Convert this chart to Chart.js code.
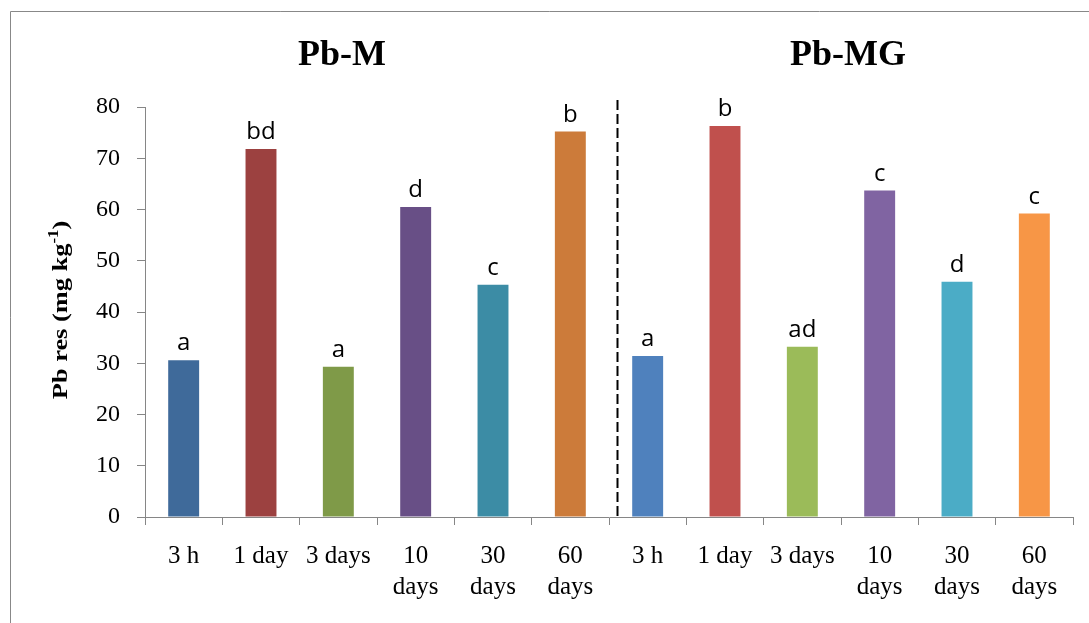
<!DOCTYPE html>
<html lang="en">
<head>
    <meta charset="UTF-8">
    <title>Pb res</title>
    <script src="https://cdn.jsdelivr.net/npm/chart.js@4/dist/chart.umd.min.js"></script>
    <style>
        body {
            margin: 0;
            background: #fff;
        }
        canvas {
            display: block;
        }
    </style>
</head>
<body>
<canvas id="pbChart" width="1089" height="623"></canvas>

<script>
    // sampling times, Pb-M then Pb-MG
    const timeLabels = [
        '3 h', '1 day', '3 days', ['10', 'days'], ['30', 'days'], ['60', 'days'],
        '3 h', '1 day', '3 days', ['10', 'days'], ['30', 'days'], ['60', 'days']
    ];
    const pbRes = [30.6, 71.8, 29.3, 60.5, 45.3, 75.2, 31.4, 76.3, 33.2, 63.7, 45.9, 59.2];
    const groupLetters = ['a', 'bd', 'a', 'd', 'c', 'b', 'a', 'b', 'ad', 'c', 'd', 'c'];
    const barColors = [
        '#3F6A9A', '#9C4140', '#7F9A48', '#684F86', '#3C8CA5', '#CC7B3A',
        '#4F81BD', '#C0504D', '#9BBB59', '#8064A2', '#4BACC6', '#F79646'
    ];
    const panelTitles = ['Pb-M', 'Pb-MG'];
    const yTicks = [0, 10, 20, 30, 40, 50, 60, 70, 80];

    const axisGray = '#868686';
    const serif = '"Liberation Serif", "Times New Roman", serif';

    // frame, panel titles, axis title, divider and significance letters
    const decorations = {
        id: 'decorations',
        beforeDraw(chart) {
            const ctx = chart.ctx;
            ctx.save();
            ctx.strokeStyle = '#888888';
            ctx.lineWidth = 1;
            ctx.beginPath();
            ctx.moveTo(10.5, chart.height);
            ctx.lineTo(10.5, 11.5);
            ctx.lineTo(chart.width, 11.5);
            ctx.stroke();
            ctx.restore();
        },
        afterDatasetsDraw(chart) {
            const ctx = chart.ctx;
            const x = chart.scales.x;
            const area = chart.chartArea;
            ctx.save();

            // panel titles
            ctx.fillStyle = '#000';
            ctx.font = 'bold 36px ' + serif;
            ctx.textAlign = 'center';
            ctx.textBaseline = 'alphabetic';
            ctx.fillText(panelTitles[0], 342, 65);
            ctx.fillText(panelTitles[1], 848, 65);

            // dashed divider between the two panels
            const divX = Math.round(x.getPixelForValue(5.6)) + 0.5;
            ctx.strokeStyle = '#000';
            ctx.lineWidth = 2;
            ctx.setLineDash([10, 4]);
            ctx.beginPath();
            ctx.moveTo(divX, 100);
            ctx.lineTo(divX, area.bottom);
            ctx.stroke();
            ctx.setLineDash([]);

            // letters above the bars
            ctx.font = '24px "Open Sans", sans-serif';
            ctx.textAlign = 'center';
            ctx.textBaseline = 'alphabetic';
            chart.getDatasetMeta(0).data.forEach((bar, i) => {
                ctx.fillText(groupLetters[i], bar.x, bar.y - 10);
            });

            // y axis title with superscript, slightly stretched along its length
            const main = 'Pb res (mg kg';
            const sup = '-1';
            const close = ')';
            ctx.font = 'bold 22px ' + serif;
            const wMain = ctx.measureText(main).width;
            const wClose = ctx.measureText(close).width;
            ctx.font = 'bold 14px ' + serif;
            const wSup = ctx.measureText(sup).width;
            const total = wMain + wSup + wClose;
            ctx.translate(67, 310);
            ctx.rotate(-Math.PI / 2);
            ctx.scale(1.2, 1);
            ctx.textAlign = 'left';
            let pos = -total / 2;
            ctx.font = 'bold 22px ' + serif;
            ctx.fillText(main, pos, 0);
            pos += wMain;
            ctx.font = 'bold 14px ' + serif;
            ctx.fillText(sup, pos, -9);
            pos += wSup;
            ctx.font = 'bold 22px ' + serif;
            ctx.fillText(close, pos, 0);

            ctx.restore();
        }
    };

    new Chart(document.getElementById('pbChart'), {
        type: 'bar',
        data: {
            labels: timeLabels,
            datasets: [{
                data: pbRes,
                backgroundColor: barColors,
                barPercentage: 0.4,
                categoryPercentage: 1.0
            }]
        },
        options: {
            responsive: false,
            animation: false,
            devicePixelRatio: 1,
            layout: {
                padding: { top: 107, right: 16, left: 0, bottom: 0 }
            },
            plugins: {
                legend: { display: false },
                tooltip: { enabled: false }
            },
            scales: {
                x: {
                    afterFit(scale) { scale.height = 106; },
                    grid: {
                        offset: true,
                        drawOnChartArea: false,
                        tickLength: 8,
                        color: axisGray
                    },
                    border: { color: axisGray },
                    ticks: {
                        color: '#000',
                        font: { family: serif, size: 25, lineHeight: 1.25 },
                        padding: 16,
                        maxRotation: 0,
                        autoSkip: false
                    }
                },
                y: {
                    min: 0,
                    max: 80,
                    afterFit(scale) { scale.width = 145; },
                    afterBuildTicks(scale) {
                        scale.ticks = yTicks.map(v => ({ value: v }));
                    },
                    grid: {
                        drawOnChartArea: false,
                        tickLength: 8,
                        color: axisGray
                    },
                    border: { color: axisGray },
                    ticks: {
                        color: '#000',
                        font: { family: serif, size: 24 },
                        padding: 17
                    }
                }
            }
        },
        plugins: [decorations]
    });
</script>
</body>
</html>
